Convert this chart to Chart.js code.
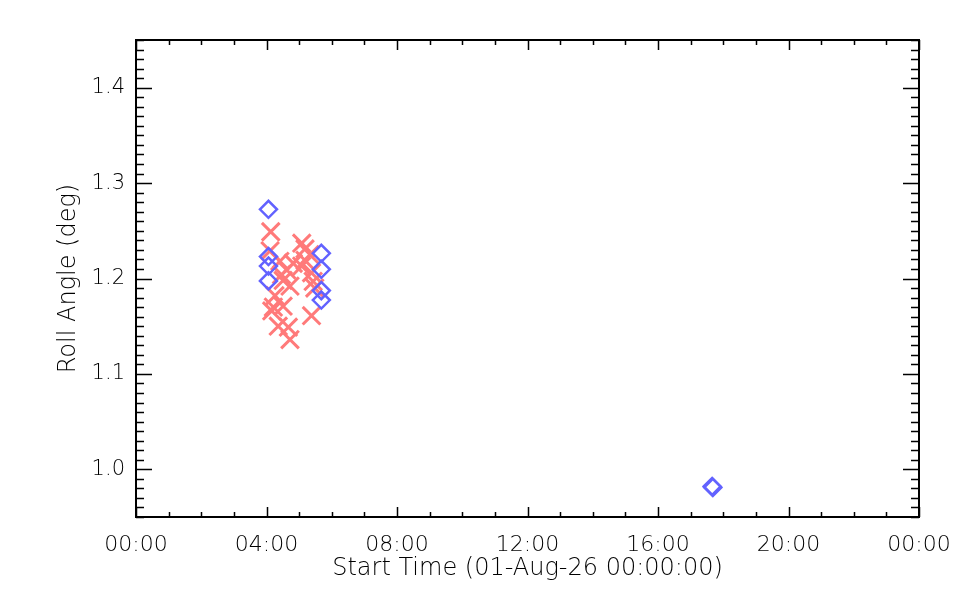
<!DOCTYPE html>
<html>
<head>
<meta charset="utf-8">
<script src="https://cdn.jsdelivr.net/npm/chart.js@4/dist/chart.umd.min.js"></script>
<style>
  html, body { margin: 0; padding: 0; background: #fff; }
  #wrap { width: 960px; height: 600px; }
</style>
</head>
<body>
<div id="wrap"><canvas id="roll_angle_chart" width="960" height="600"></canvas></div>
<script>
/* global Chart */

// start times in hours after 01-Aug-26 00:00:00
const crossHours = [4.13, 4.11, 5.08, 5.18, 5.33, 4.41, 4.62, 4.46, 4.51, 4.72,
    5.08, 5.38, 5.43, 5.48, 4.26, 4.21, 4.16, 4.51, 4.36, 4.67,
    4.72, 5.38, 5.18, 4.82];
const crossRoll = [1.249, 1.229, 1.237, 1.231, 1.225, 1.218, 1.209, 1.204, 1.198, 1.192,
    1.213, 1.206, 1.197, 1.190, 1.182, 1.170, 1.166, 1.171, 1.150, 1.149,
    1.136, 1.161, 1.219, 1.216];

const diamondHours = [4.06, 4.06, 4.06, 4.06, 5.68, 5.68, 5.68, 5.68, 17.66, 17.68];
const diamondRoll = [1.2725, 1.223, 1.213, 1.1975, 1.2264, 1.2096, 1.1873, 1.1774, 0.982, 0.981];

const xTickHours = [0, 4, 8, 12, 16, 20, 24];
const yTickValues = [1.0, 1.1, 1.2, 1.3, 1.4];

const FONT = "'DejaVu Sans', 'Liberation Sans', sans-serif";

function toPoints(xs, ys) {
    return xs.map((x, i) => ({ x: x, y: ys[i] }));
}

function hourLabel(h) {
    const hh = String(Math.round(h) % 24).padStart(2, "0");
    return `${hh}:00`;
}

// IDL style box with inward ticks on all four sides
const boxTicks = {
    id: "boxTicks",
    afterDraw(chart) {
        const ctx = chart.ctx;
        const a = chart.chartArea;
        const xs = chart.scales.x;
        const ys = chart.scales.y;
        ctx.save();
        ctx.strokeStyle = "#000";
        ctx.lineWidth = 2;
        ctx.strokeRect(a.left, a.top, a.right - a.left, a.bottom - a.top);
        ctx.lineWidth = 1.5;
        ctx.beginPath();
        for (let h = 0; h <= 24; h += 1) {
            const px = Math.round(xs.getPixelForValue(h)) + 0.5;
            const len = h % 4 === 0 ? 10 : 5;
            ctx.moveTo(px, a.bottom); ctx.lineTo(px, a.bottom - len);
            ctx.moveTo(px, a.top); ctx.lineTo(px, a.top + len);
        }
        for (let k = 95; k <= 145; k += 1) {
            const v = k / 100;
            const py = Math.round(ys.getPixelForValue(v)) + 0.5;
            const len = k % 10 === 0 ? 16 : 8;
            ctx.moveTo(a.left, py); ctx.lineTo(a.left + len, py);
            ctx.moveTo(a.right, py); ctx.lineTo(a.right - len, py);
        }
        ctx.stroke();
        ctx.restore();
    },
};

const roll_angle_chart = document.getElementById("roll_angle_chart");

new Chart(roll_angle_chart, {
    type: "scatter",
    data: {
        datasets: [
            {
                label: "diamonds",
                data: toPoints(diamondHours, diamondRoll),
                pointStyle: "rectRot",
                pointRadius: 8.5,
                pointBorderWidth: 2.5,
                borderColor: "#6262ff",
                backgroundColor: "rgba(0,0,0,0)",
                order: 0,
            },
            {
                label: "crosses",
                data: toPoints(crossHours, crossRoll),
                pointStyle: "crossRot",
                pointRadius: 12.5,
                pointBorderWidth: 3,
                borderColor: "#ff7a7a",
                backgroundColor: "#ff7a7a",
                order: 1,
            },
        ],
    },
    options: {
        responsive: false,
        animation: false,
        layout: { padding: { left: 0, right: 41, top: 40, bottom: 0 } },
        plugins: {
            legend: { display: false },
            tooltip: { enabled: false },
        },
        scales: {
            x: {
                type: "linear",
                min: 0,
                max: 24,
                afterFit(scale) {
                    scale.height = 83;
                    scale.paddingLeft = 0;
                    scale.paddingRight = 0;
                },
                afterBuildTicks(scale) { scale.ticks = xTickHours.map(v => ({ value: v })); },
                grid: { display: false, drawTicks: false },
                border: { display: false },
                ticks: {
                    padding: 15,
                    color: "#000",
                    font: { family: FONT, size: 22, weight: 200 },
                    maxRotation: 0,
                    callback: (v) => hourLabel(v),
                },
                title: {
                    display: true,
                    text: "Start Time (01-Aug-26 00:00:00)",
                    color: "#000",
                    font: { family: FONT, size: 24, weight: 200 },
                    padding: { top: 0, bottom: 17 },
                },
            },
            y: {
                type: "linear",
                min: 0.95,
                max: 1.45,
                afterFit(scale) { scale.width = 136; },
                afterBuildTicks(scale) { scale.ticks = yTickValues.map(v => ({ value: v })); },
                grid: { display: false, drawTicks: false },
                border: { display: false },
                ticks: {
                    padding: 11,
                    color: "#000",
                    font: { family: FONT, size: 21, weight: 200 },
                    callback: (v) => Number(v).toFixed(1),
                },
                title: {
                    display: true,
                    text: "Roll Angle (deg)",
                    color: "#000",
                    font: { family: FONT, size: 24, weight: 200 },
                    padding: { top: 54, bottom: 0 },
                },
            },
        },
    },
    plugins: [boxTicks],
});
</script>
</body>
</html>
